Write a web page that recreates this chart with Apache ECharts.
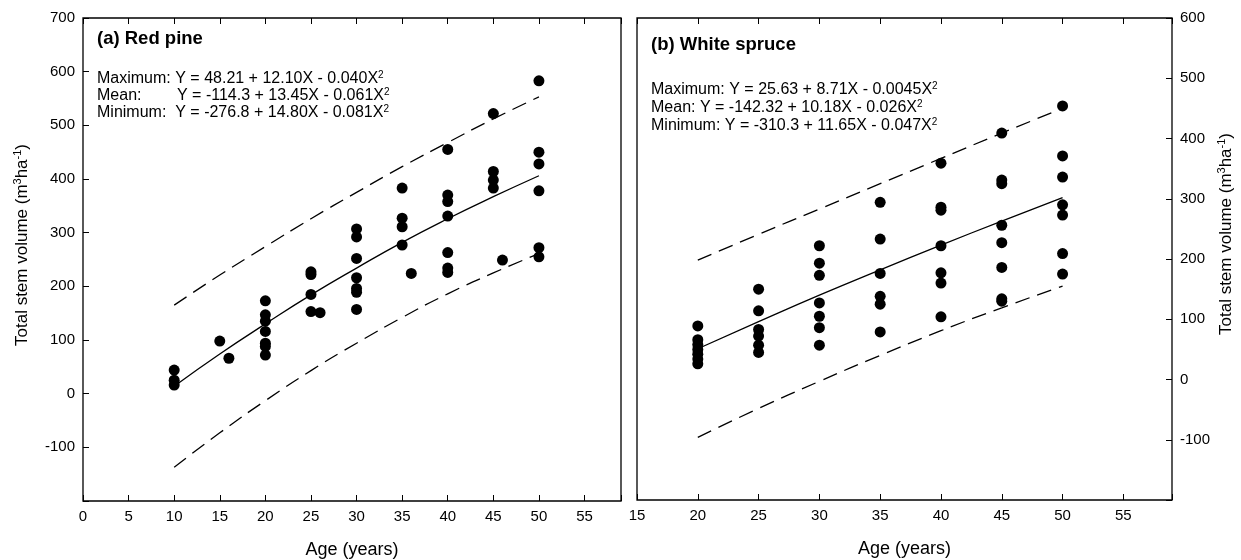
<!DOCTYPE html>
<html>
<head>
<meta charset="utf-8">
<title>Total stem volume by age</title>
<script src="https://cdn.jsdelivr.net/npm/echarts@6/dist/echarts.min.js"></script>
<style>
  html, body { margin: 0; padding: 0; background: #fff; }
  #chart { width: 1241px; height: 560px; }
</style>
</head>
<body>
<div id="chart"></div>
<script>
// (a) red pine - observed plots
const pineAge = [10, 10, 10, 15, 16,
  20, 20, 20, 20, 20, 20, 20, 25, 25, 25, 25, 26,
  30, 30, 30, 30, 30, 30, 30, 35, 35, 35, 35, 36,
  40, 40, 40, 40, 40, 40, 40, 45, 45, 45, 45, 46,
  50, 50, 50, 50, 50, 50];
const pineVol = [44, 25, 16, 98, 66,
  173, 147, 135, 116, 94, 88, 72, 227, 222, 185, 153, 151,
  307, 292, 252, 216, 196, 189, 157, 383, 327, 311, 277, 224,
  455, 370, 358, 331, 263, 234, 226, 522, 414, 398, 383, 249,
  583, 450, 428, 378, 272, 255];
// fitted curves
const pineFitAge = [10, 15, 20, 25, 30, 35, 40, 45, 50];
const pineMax = [165, 221, 274, 326, 375, 423, 468, 512, 553];
const pineMean = [14, 74, 130, 184, 234, 282, 326, 367, 406];
const pineMin = [-137, -73, -13, 43, 94, 142, 186, 225, 261];

// (b) white spruce
const spruceAge = [20, 20, 20, 20, 20, 20, 20,
  25, 25, 25, 25, 25, 25,
  30, 30, 30, 30, 30, 30, 30,
  35, 35, 35, 35, 35, 35,
  40, 40, 40, 40, 40, 40, 40,
  45, 45, 45, 45, 45, 45, 45, 45,
  50, 50, 50, 50, 50, 50, 50];
const spruceVol = [89, 66, 58, 50, 42, 34, 26,
  150, 114, 83, 72, 57, 45,
  222, 193, 173, 127, 105, 86, 57,
  294, 233, 176, 138, 125, 79,
  359, 286, 281, 222, 177, 160, 104,
  409, 331, 325, 256, 227, 186, 134, 130,
  454, 371, 336, 290, 273, 209, 175];
const spruceFitAge = [20, 25, 30, 35, 40, 45, 50];
const spruceMax = [198, 241, 283, 325, 367, 409, 450];
const spruceMean = [51, 96, 140, 182, 223, 263, 302];
const spruceMin = [-96, -48, -3, 40, 81, 119, 155];

const xTicks = 5;
const yTicks = 100;

const FONT = "'Liberation Sans', Arial, sans-serif";
const chart = echarts.init(document.getElementById('chart'));

function pairs(xs, ys) {
  return xs.map((x, i) => [x, ys[i]]);
}

function xAxisDef(grid, min, top) {
  return {
    type: 'value', gridIndex: grid, position: top ? 'top' : 'bottom',
    min: min, max: 59, interval: xTicks,
    name: top ? '' : 'Age (years)', nameLocation: 'middle', nameGap: 40,
    nameTextStyle: { fontSize: 18, color: '#000', fontFamily: FONT },
    axisLine: { show: false, onZero: false },
    axisTick: { inside: true, length: 6, lineStyle: { color: '#000' } },
    axisLabel: {
      show: !top, color: '#000', fontSize: 15, fontFamily: FONT, margin: 8,
      formatter: v => (v % 5 === 0 ? v : '')
    },
    splitLine: { show: false }
  };
}

function yAxisDef(grid, max, right) {
  return {
    type: 'value', gridIndex: grid, position: right ? 'right' : 'left',
    min: -200, max: max, interval: yTicks,
    axisLine: { show: false, onZero: false },
    axisTick: { inside: true, length: 6, lineStyle: { color: '#000' } },
    axisLabel: {
      color: '#000', fontSize: 15, fontFamily: FONT, margin: 8,
      formatter: v => (v === -200 ? '' : v)
    },
    splitLine: { show: false }
  };
}

function dots(name, xi, yi, xs, ys) {
  return {
    name: name, type: 'scatter', xAxisIndex: xi, yAxisIndex: yi,
    symbol: 'circle', symbolSize: 11,
    itemStyle: { color: '#000', opacity: 1 },
    data: pairs(xs, ys), z: 3
  };
}

function curve(name, xi, yi, xs, ys, dashed) {
  return {
    name: name, type: 'line', xAxisIndex: xi, yAxisIndex: yi,
    smooth: true, showSymbol: false, silent: true,
    lineStyle: { color: '#000', width: 1.3, type: dashed ? [15, 8] : 'solid' },
    data: pairs(xs, ys), z: 2
  };
}

const eqRich = {
  t: { fontSize: 16, lineHeight: 18, fill: '#000', fontFamily: FONT },
  s: { fontSize: 10, lineHeight: 9, verticalAlign: 'top', fill: '#000', fontFamily: FONT }
};
const nameRich = {
  t: { fontSize: 17, lineHeight: 20, fill: '#000', fontFamily: FONT },
  s: { fontSize: 11, lineHeight: 10, verticalAlign: 'top', fill: '#000', fontFamily: FONT }
};

function txt(s, x, y) {
  return {
    type: 'text', x: x, y: y,
    style: { text: s, rich: eqRich, fill: '#000', verticalAlign: 'middle', align: 'left' }
  };
}

function heading(s, x, y) {
  return {
    type: 'text', x: x, y: y,
    style: { text: s, fill: '#000', font: 'bold 18.5px ' + FONT, verticalAlign: 'middle' }
  };
}

function volName(x, y) {
  return {
    type: 'text', x: x, y: y, rotation: Math.PI / 2,
    style: {
      text: '{t|Total stem volume (m}{s|3}{t|ha}{s|-1}{t|)}', rich: nameRich,
      fill: '#000', align: 'center', verticalAlign: 'middle'
    }
  };
}

const option = {
  backgroundColor: '#fff',
  animation: false,
  grid: [
    { left: 83, top: 18, width: 538, height: 483, show: true, borderColor: '#000', borderWidth: 1.3,
      outerBoundsMode: 'none', containLabel: false },
    { left: 637, top: 18, width: 535, height: 482, show: true, borderColor: '#000', borderWidth: 1.3,
      outerBoundsMode: 'none', containLabel: false }
  ],
  xAxis: [
    xAxisDef(0, 0, false),
    xAxisDef(0, 0, true),
    xAxisDef(1, 15, false),
    xAxisDef(1, 15, true)
  ],
  yAxis: [
    yAxisDef(0, 700, false),
    yAxisDef(1, 600, true)
  ],
  series: [
    curve('Red pine maximum', 0, 0, pineFitAge, pineMax, true),
    curve('Red pine mean', 0, 0, pineFitAge, pineMean, false),
    curve('Red pine minimum', 0, 0, pineFitAge, pineMin, true),
    dots('Red pine', 0, 0, pineAge, pineVol),
    curve('White spruce maximum', 2, 1, spruceFitAge, spruceMax, true),
    curve('White spruce mean', 2, 1, spruceFitAge, spruceMean, false),
    curve('White spruce minimum', 2, 1, spruceFitAge, spruceMin, true),
    dots('White spruce', 2, 1, spruceAge, spruceVol)
  ],
  graphic: [
    volName(22, 245),
    volName(1226, 234),
    heading('(a) Red pine', 97, 39),
    txt('{t|Maximum: Y = 48.21 + 12.10X - 0.040X}{s|2}', 97, 79),
    txt('{t|Mean:}', 97, 96),
    txt('{t|Y = -114.3 + 13.45X - 0.061X}{s|2}', 177, 96),
    txt('{t|Minimum:  Y = -276.8 + 14.80X - 0.081X}{s|2}', 97, 113),
    heading('(b) White spruce', 651, 45),
    txt('{t|Maximum: Y = 25.63 + 8.71X - 0.0045X}{s|2}', 651, 90),
    txt('{t|Mean: Y = -142.32 + 10.18X - 0.026X}{s|2}', 651, 108),
    txt('{t|Minimum: Y = -310.3 + 11.65X - 0.047X}{s|2}', 651, 126)
  ]
};

chart.setOption(option);
</script>
</body>
</html>
